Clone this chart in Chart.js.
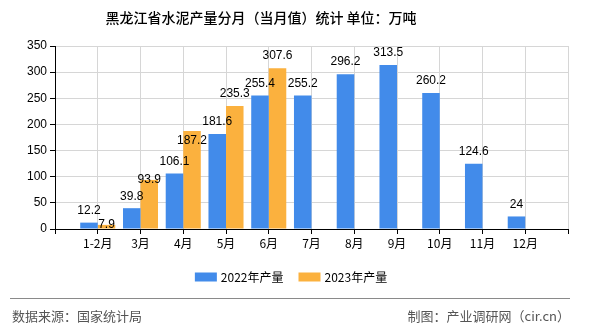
<!DOCTYPE html>
<html>
<head>
<meta charset="utf-8">
<script src="https://cdn.jsdelivr.net/npm/chart.js@4/dist/chart.umd.min.js"></script>
<style>
  html, body { margin: 0; padding: 0; background: #fff; }
  #wrap { width: 590px; height: 330px; position: relative; }
</style>
</head>
<body>
<div id="wrap"><canvas id="chart" width="590" height="330"></canvas></div>
<script>
// chart data (empty slots at both ends keep the gap before 1-2月 and after 12月)
const months = ["", "1-2月", "3月", "4月", "5月", "6月", "7月", "8月", "9月", "10月", "11月", "12月", ""];
const output2022 = [null, 12.2, 39.8, 106.1, 181.6, 255.4, 255.2, 296.2, 313.5, 260.2, 124.6, 24, null];
const output2023 = [null, 7.9, 93.9, 187.2, 235.3, 307.6, null, null, null, null, null, null, null];
const seriesNames = ["2022年产量", "2023年产量"];
const yTicks = [0, 50, 100, 150, 200, 250, 300, 350];

const titleText = "黑龙江省水泥产量分月（当月值）统计 单位：万吨";
const sourceText = "数据来源：国家统计局";
const makerText = "制图：产业调研网（cir.cn）";

const CJK = '"Noto Sans CJK SC", "Liberation Sans", sans-serif';
const NUM = '"Liberation Sans", "Noto Sans CJK SC", sans-serif';

// value labels above each bar, moved down a bit when they would collide
const barLabels = {
    id: "barLabels",
    afterDatasetsDraw(chart) {
        const ctx = chart.ctx;
        ctx.save();
        ctx.font = "12px " + NUM;
        ctx.fillStyle = "#000";
        ctx.textAlign = "center";
        ctx.textBaseline = "middle";
        const placed = [];
        const hits = (b) => placed.some(p => b.x1 < p.x2 && b.x2 > p.x1 && b.y1 < p.y2 && b.y2 > p.y1);
        chart.data.datasets.forEach((ds, i) => {
            chart.getDatasetMeta(i).data.forEach((bar, j) => {
                const v = ds.data[j];
                if (v === null || v === undefined) return;
                const txt = String(v);
                const w = ctx.measureText(txt).width;
                let pos = null;
                for (const dy of [-12, 0, 10]) {
                    const b = { x1: bar.x - w / 2, x2: bar.x + w / 2, y1: bar.y + dy - 5, y2: bar.y + dy + 5 };
                    if (!hits(b)) { pos = b; break; }
                }
                if (!pos) pos = { x1: bar.x - w / 2, x2: bar.x + w / 2, y1: bar.y - 17, y2: bar.y - 7 };
                placed.push(pos);
                ctx.fillText(txt, bar.x, (pos.y1 + pos.y2) / 2);
            });
        });
        ctx.restore();
    }
};

// title, legend and footer
const decorations = {
    id: "decorations",
    afterDraw(chart) {
        const ctx = chart.ctx;
        ctx.save();

        ctx.font = "500 14px " + CJK;
        ctx.fillStyle = "#000";
        ctx.textAlign = "center";
        ctx.textBaseline = "middle";
        ctx.fillText(titleText, 261, 18);

        // legend
        ctx.font = "12px " + CJK;
        const boxW = 22, boxH = 9, gap = 4, spacing = 15;
        const widths = chart.data.datasets.map(ds => ctx.measureText(ds.label).width);
        let total = 0;
        widths.forEach((w, i) => { total += boxW + gap + w + (i ? spacing : 0); });
        let x = 291 - total / 2;
        const ly = 277;
        ctx.textAlign = "left";
        chart.data.datasets.forEach((ds, i) => {
            ctx.fillStyle = ds.backgroundColor;
            ctx.fillRect(x, ly - boxH / 2, boxW, boxH);
            ctx.fillStyle = "#000";
            ctx.fillText(ds.label, x + boxW + gap, ly);
            x += boxW + gap + widths[i] + spacing;
        });

        // footer
        ctx.strokeStyle = "#8a8a8a";
        ctx.lineWidth = 1;
        ctx.beginPath();
        ctx.moveTo(10, 298.5);
        ctx.lineTo(570, 298.5);
        ctx.stroke();

        ctx.font = "13px " + CJK;
        ctx.fillStyle = "#555";
        ctx.textAlign = "left";
        ctx.fillText(sourceText, 12, 316);
        ctx.textAlign = "right";
        ctx.fillText(makerText, 570, 316);
        ctx.restore();
    }
};

new Chart(document.getElementById("chart"), {
    type: "bar",
    data: {
        labels: months,
        datasets: [
            { label: seriesNames[0], data: output2022, backgroundColor: "#428BEA" },
            { label: seriesNames[1], data: output2023, backgroundColor: "#FBB13E" }
        ]
    },
    options: {
        responsive: false,
        animation: false,
        devicePixelRatio: 1,
        layout: { padding: { left: 0, right: 22, top: 46, bottom: 71 } },
        datasets: { bar: { categoryPercentage: 0.82, barPercentage: 1.0 } },
        plugins: {
            legend: { display: false },
            title: { display: false },
            tooltip: { enabled: false }
        },
        scales: {
            x: {
                offset: false,
                grid: { offset: false, color: "#d6d6d6", tickColor: "#000", tickLength: 5 },
                border: { color: "#000", width: 1 },
                ticks: {
                    autoSkip: false, maxRotation: 0, padding: 2,
                    color: "#000", font: { size: 12, family: CJK }
                },
                afterFit(scale) { scale.height = 30; }
            },
            y: {
                min: 0, max: 350,
                afterBuildTicks(scale) { scale.ticks = yTicks.map(v => ({ value: v })); },
                grid: { color: "#d6d6d6", tickColor: "#000", tickLength: 5 },
                border: { color: "#000", width: 1 },
                ticks: { color: "#000", padding: 3, font: { size: 12, family: NUM } },
                afterFit(scale) { scale.width = 55; }
            }
        }
    },
    plugins: [barLabels, decorations]
});
</script>
</body>
</html>
